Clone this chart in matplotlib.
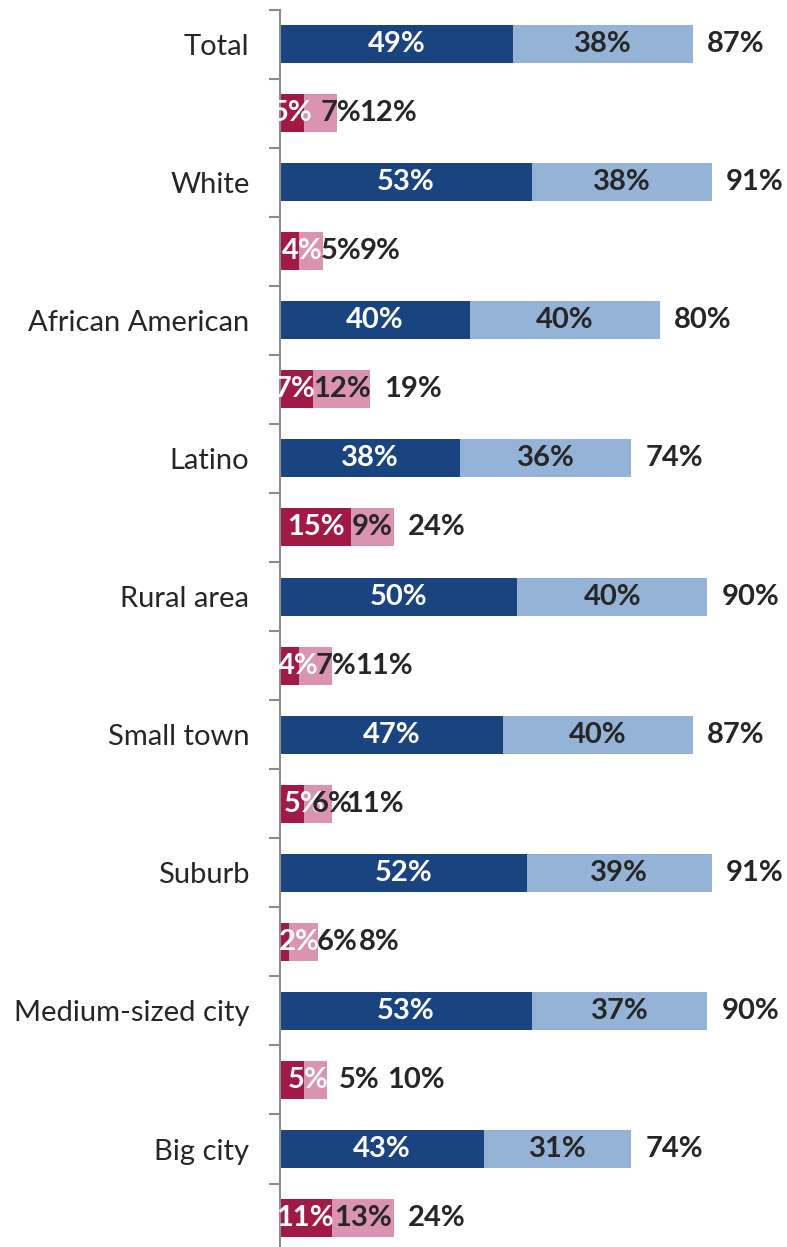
import matplotlib

matplotlib.use("Agg")
import matplotlib.pyplot as plt
from matplotlib.ticker import FixedLocator

plt.rcParams["font.family"] = ["Lato", "DejaVu Sans"]

# Groups, top to bottom
groups = ["Total", "White", "African American", "Latino", "Rural area",
          "Small town", "Suburb", "Medium-sized city", "Big city"]

# Positive row: strong + somewhat
pos_strong = [49, 53, 40, 38, 50, 47, 52, 53, 43]
pos_some = [38, 38, 40, 36, 40, 40, 39, 37, 31]
pos_total = [87, 91, 80, 74, 90, 87, 91, 90, 74]

# Negative row: strong + somewhat
neg_strong = [5, 4, 7, 15, 4, 5, 2, 5, 11]
neg_some = [7, 5, 12, 9, 7, 6, 6, 5, 13]
neg_total = [12, 9, 19, 24, 11, 11, 8, 10, 24]

# Label nudges (in % units) for the crowded negative-row labels
neg_strong_nudge = [0, 2.6, -0.3, 0, 1.8, 2.6, 3.0, 3.4, -0.2]
neg_some_nudge = [4.3, 6.3, 0, 0, 4.3, 3.0, 7.0, 9.1, 0]
neg_total_nudge = [1.7, 3.0, 0, 0, 1.8, 0, 3.8, 9.6, 0]

C_DARK_BLUE = "#1A4480"
C_LIGHT_BLUE = "#95B3D7"
C_DARK_RED = "#A01A45"
C_PINK = "#DA93B0"
C_TEXT = "#262626"
C_AXIS = "#8C8C8C"

W, H, DPI = 787, 1247, 100
PX_PER_PCT = 4.747
TOTAL_GAP = 9.07  # total label centre past bar end, in % units

fig = plt.figure(figsize=(W / DPI, H / DPI), dpi=DPI)
left_px, top_px, bottom_px = 280, 9.5, 1252.6
ax = fig.add_axes([left_px / W, (H - bottom_px) / H,
                   (W - left_px) / W, (bottom_px - top_px) / H])

n = len(groups)
pos_y = [2 * i for i in range(n)]
neg_y = [2 * i + 1 for i in range(n)]
bh = 0.55

ax.barh(pos_y, pos_strong, height=bh, color=C_DARK_BLUE, linewidth=0)
ax.barh(pos_y, pos_some, left=pos_strong, height=bh, color=C_LIGHT_BLUE, linewidth=0)
ax.barh(neg_y, neg_strong, height=bh, color=C_DARK_RED, linewidth=0)
ax.barh(neg_y, neg_some, left=neg_strong, height=bh, color=C_PINK, linewidth=0)

lab = dict(ha="center", va="center", fontsize=21, fontweight="bold")
for i in range(n):
    y = pos_y[i]
    ax.text(pos_strong[i] / 2, y, f"{pos_strong[i]}%", color="white", **lab)
    ax.text(pos_strong[i] + pos_some[i] / 2, y, f"{pos_some[i]}%", color=C_TEXT, **lab)
    ax.text(pos_total[i] + TOTAL_GAP, y, f"{pos_total[i]}%", color=C_TEXT, **lab)

    y = neg_y[i]
    ax.text(neg_strong[i] / 2 + neg_strong_nudge[i], y, f"{neg_strong[i]}%",
            color="white", **lab)
    ax.text(neg_strong[i] + neg_some[i] / 2 + neg_some_nudge[i], y,
            f"{neg_some[i]}%", color=C_TEXT, **lab)
    ax.text(neg_total[i] + TOTAL_GAP + neg_total_nudge[i], y,
            f"{neg_total[i]}%", color=C_TEXT, **lab)

ax.set_xlim(0, (W - left_px) / PX_PER_PCT)
ax.set_ylim(2 * n - 0.5, -0.5)

for side in ("top", "right", "bottom"):
    ax.spines[side].set_visible(False)
ax.spines["left"].set_color(C_AXIS)
ax.spines["left"].set_linewidth(1.5)
ax.xaxis.set_visible(False)

# boundary ticks, labels on the group rows
ax.yaxis.set_major_locator(FixedLocator([k - 0.5 for k in range(2 * n + 1)]))
ax.yaxis.set_minor_locator(FixedLocator(pos_y))
ax.tick_params(axis="y", which="major", length=8, width=1.5, color=C_AXIS,
               labelleft=False)
ax.tick_params(axis="y", which="minor", length=0, pad=22, labelsize=21,
               labelcolor=C_TEXT)
ax.set_yticklabels(groups, minor=True)

fig.savefig("out.png", dpi=DPI, facecolor="white")
